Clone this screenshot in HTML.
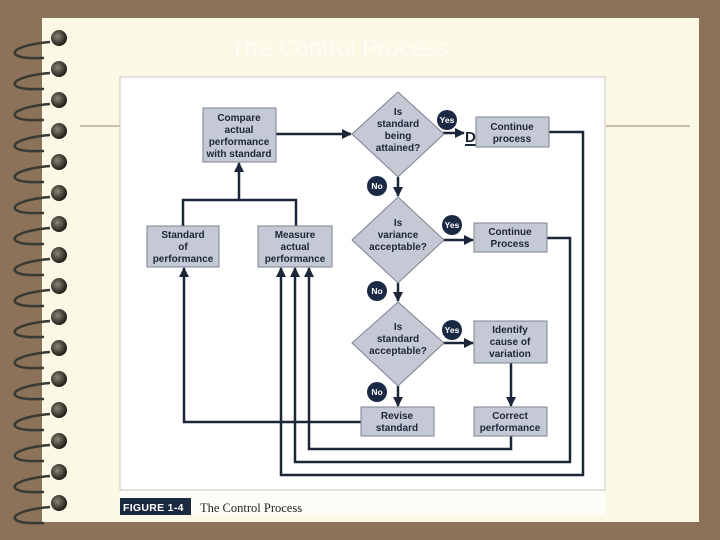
<!DOCTYPE html>
<html><head><style>
html,body{margin:0;padding:0;background:#8b7258;}
svg{display:block}
</style></head><body>
<svg width="720" height="540" viewBox="0 0 720 540" xmlns="http://www.w3.org/2000/svg" font-family="Liberation Sans, DejaVu Sans, sans-serif">
<defs>
<marker id="a" viewBox="0 0 10 10" refX="9" refY="5" markerWidth="4" markerHeight="4" orient="auto"><path d="M0,0L10,5L0,10z" fill="#1b2638"/></marker>
<radialGradient id="r" cx="40%" cy="40%" r="60%"><stop offset="0" stop-color="#8a8676"/><stop offset="1" stop-color="#1e1c16"/></radialGradient>
</defs>
<rect width="720" height="540" fill="#8b7258"/>
<rect x="42" y="18" width="657" height="504" fill="#fbf9e6"/>
<line x1="80" y1="126" x2="120" y2="126" stroke="#9a8468" stroke-width="1"/>
<line x1="606" y1="126" x2="690" y2="126" stroke="#9a8468" stroke-width="1"/>
<text x="230" y="56" font-size="24" fill="#fffdf3">The Control Process</text>
<g id="rings">
<g fill="none" stroke="#3a3a34" stroke-width="2.5">
<path d="M50,42 C26,44 10,50 16,55 C22,59 36,58 44,58"/><path d="M50,73 C26,75 10,81 16,86 C22,90 36,89 44,89"/><path d="M50,104 C26,106 10,112 16,117 C22,121 36,120 44,120"/><path d="M50,135 C26,137 10,143 16,148 C22,152 36,151 44,151"/><path d="M50,166 C26,168 10,174 16,179 C22,183 36,182 44,182"/><path d="M50,197 C26,199 10,205 16,210 C22,214 36,213 44,213"/><path d="M50,228 C26,230 10,236 16,241 C22,245 36,244 44,244"/><path d="M50,259 C26,261 10,267 16,272 C22,276 36,275 44,275"/><path d="M50,290 C26,292 10,298 16,303 C22,307 36,306 44,306"/><path d="M50,321 C26,323 10,329 16,334 C22,338 36,337 44,337"/><path d="M50,352 C26,354 10,360 16,365 C22,369 36,368 44,368"/><path d="M50,383 C26,385 10,391 16,396 C22,400 36,399 44,399"/><path d="M50,414 C26,416 10,422 16,427 C22,431 36,430 44,430"/><path d="M50,445 C26,447 10,453 16,458 C22,462 36,461 44,461"/><path d="M50,476 C26,478 10,484 16,489 C22,493 36,492 44,492"/><path d="M50,507 C26,509 10,515 16,520 C22,524 36,523 44,523"/>
</g>
<g fill="url(#r)">
<circle cx="59" cy="38" r="8"/><circle cx="59" cy="69" r="8"/><circle cx="59" cy="100" r="8"/><circle cx="59" cy="131" r="8"/><circle cx="59" cy="162" r="8"/><circle cx="59" cy="193" r="8"/><circle cx="59" cy="224" r="8"/><circle cx="59" cy="255" r="8"/><circle cx="59" cy="286" r="8"/><circle cx="59" cy="317" r="8"/><circle cx="59" cy="348" r="8"/><circle cx="59" cy="379" r="8"/><circle cx="59" cy="410" r="8"/><circle cx="59" cy="441" r="8"/><circle cx="59" cy="472" r="8"/><circle cx="59" cy="503" r="8"/>
</g>
</g>
<rect x="120" y="77" width="485" height="413" fill="#ffffff" stroke="#c8c8c4"/>
<rect x="120" y="491" width="485" height="24" fill="#fdfdf8"/>
<rect x="120" y="498" width="71" height="17" fill="#1b2a40"/>
<text x="123" y="511" font-size="10.5" font-weight="bold" fill="#fff" letter-spacing="0.3">FIGURE 1-4</text>
<text x="200" y="512" font-size="12.5" font-family="Liberation Serif, serif" fill="#222">The Control Process</text>

<g stroke="#1b2638" stroke-width="2.5" fill="none">
<path d="M276,134 H351" marker-end="url(#a)"/>
<path d="M443,133 H464" marker-end="url(#a)"/>
<path d="M398,177 V196" marker-end="url(#a)"/>
<path d="M443,240 H473" marker-end="url(#a)"/>
<path d="M398,283 V301" marker-end="url(#a)"/>
<path d="M443,343 H473" marker-end="url(#a)"/>
<path d="M398,386 V406" marker-end="url(#a)"/>
<path d="M511,363 V406" marker-end="url(#a)"/>
<path d="M183,226 V200 H296 V226"/>
<path d="M239,200 V163" marker-end="url(#a)"/>
<path d="M549,132 H583 V475 H281 V268" marker-end="url(#a)"/>
<path d="M547,238 H570 V462 H295 V268" marker-end="url(#a)"/>
<path d="M511,436 V449 H309 V268" marker-end="url(#a)"/>
<path d="M361,422 H184 V268" marker-end="url(#a)"/>
</g>
<text x="465" y="142" font-size="15" font-weight="bold" fill="#1b2638">D</text>
<line x1="465" y1="145" x2="476" y2="145" stroke="#1b2638" stroke-width="2"/>

<g fill="#c5c9d6" stroke="#7d8290" stroke-width="1">
<rect x="203" y="108" width="73" height="54"/>
<rect x="476" y="117" width="73" height="30"/>
<rect x="474" y="223" width="73" height="29"/>
<rect x="474" y="321" width="73" height="42"/>
<rect x="147" y="226" width="72" height="41"/>
<rect x="258" y="226" width="74" height="41"/>
<rect x="361" y="407" width="73" height="29"/>
<rect x="474" y="407" width="73" height="29"/>
<polygon points="398,92 444,134 398,177 352,134"/>
<polygon points="398,197 444,240 398,283 352,240"/>
<polygon points="398,302 444,343 398,386 352,343"/>
</g>
<g fill="#1b2a44">
<circle cx="447" cy="120" r="10"/><circle cx="452" cy="225" r="10"/><circle cx="452" cy="330" r="10"/>
<circle cx="377" cy="186" r="10"/><circle cx="377" cy="291" r="10"/><circle cx="377" cy="392" r="10"/>
</g>
<g font-size="8.5" font-weight="bold" fill="#fff" text-anchor="middle">
<text x="447" y="123">Yes</text><text x="452" y="228">Yes</text><text x="452" y="333">Yes</text>
<text x="377" y="189">No</text><text x="377" y="294">No</text><text x="377" y="395">No</text>
</g>
<g font-size="10" font-weight="bold" fill="#1b2638" text-anchor="middle">
<text x="239" y="121">Compare</text><text x="239" y="133">actual</text><text x="239" y="145">performance</text><text x="239" y="157">with standard</text>
<text x="512" y="130">Continue</text><text x="512" y="142">process</text>
<text x="510" y="235">Continue</text><text x="510" y="247">Process</text>
<text x="510" y="333">Identify</text><text x="510" y="345">cause of</text><text x="510" y="357">variation</text>
<text x="183" y="238">Standard</text><text x="183" y="250">of</text><text x="183" y="262">performance</text>
<text x="295" y="238">Measure</text><text x="295" y="250">actual</text><text x="295" y="262">performance</text>
<text x="397" y="419">Revise</text><text x="397" y="431">standard</text>
<text x="510" y="419">Correct</text><text x="510" y="431">performance</text>
<text x="398" y="115">Is</text><text x="398" y="127">standard</text><text x="398" y="139">being</text><text x="398" y="151">attained?</text>
<text x="398" y="226">Is</text><text x="398" y="238">variance</text><text x="398" y="250">acceptable?</text>
<text x="398" y="330">Is</text><text x="398" y="342">standard</text><text x="398" y="354">acceptable?</text>
</g>
</svg>
</body></html>
